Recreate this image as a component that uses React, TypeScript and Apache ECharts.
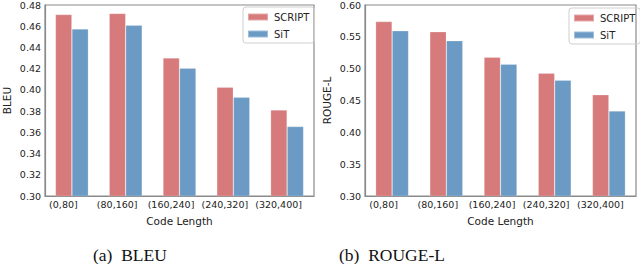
import React, { useEffect, useRef } from "react";
import * as echarts from "echarts";

const categories = ["(0,80]", "(80,160]", "(160,240]", "(240,320]", "(320,400]"];
const bleuScript = [0.471, 0.472, 0.430, 0.4025, 0.381];
const bleuSit = [0.4575, 0.461, 0.4205, 0.393, 0.3655];
const rougeScript = [0.574, 0.558, 0.518, 0.493, 0.459];
const rougeSit = [0.5595, 0.544, 0.507, 0.482, 0.4335];
const bleuTicks = { min: 0.3, max: 0.48, interval: 0.02 };
const rougeTicks = { min: 0.3, max: 0.6, interval: 0.05 };

const RED = "#d67a7b";
const BLUE = "#6b9bc4";
const FONT = "DejaVu Sans";
const FRAME = "#8a8a8a";

export default function App() {
  const ref = useRef<HTMLDivElement>(null);
  useEffect(() => {
    if (!ref.current) return;
    const chart = echarts.init(ref.current, null, { renderer: "svg" });
    const xAxis = (gi: number) => ({
      type: "category",
      gridIndex: gi,
      data: categories,
      name: "Code Length",
      nameLocation: "middle",
      nameGap: 19,
      nameTextStyle: { fontFamily: FONT, fontSize: 10.5, color: "#222" },
      axisLine: { show: true, lineStyle: { color: FRAME, width: 1.2 } },
      axisTick: { show: false },
      axisLabel: {
        fontFamily: FONT,
        fontSize: 9.5,
        color: "#222",
        margin: 3,
        padding: [0, 17, 0, 0],
        interval: 0,
      },
    });
    const yAxis = (gi: number, name: string, t: any) => ({
      type: "value",
      gridIndex: gi,
      min: t.min,
      max: t.max,
      interval: t.interval,
      name,
      nameLocation: "middle",
      nameGap: 33,
      nameTextStyle: { fontFamily: FONT, fontSize: 10.5, color: "#222" },
      axisLine: { show: true, lineStyle: { color: FRAME, width: 1.2 } },
      axisTick: { show: false },
      splitLine: { show: false },
      axisLabel: {
        fontFamily: FONT,
        fontSize: 9.5,
        color: "#222",
        margin: 4,
        formatter: (v: number) => v.toFixed(2),
      },
    });
    const bar = (name: string, data: number[], color: string, gi: number) => ({
      name,
      type: "bar",
      xAxisIndex: gi,
      yAxisIndex: gi,
      data,
      barWidth: 16.5,
      barGap: "0%",
      itemStyle: { color, borderColor: "rgba(255,255,255,0.35)", borderWidth: 0.6 },
    });
    const legend = (left: number, top: number) => ({
      left,
      top,
      orient: "vertical",
      data: ["SCRIPT", "SiT"],
      icon: "rect",
      itemWidth: 20,
      itemHeight: 7,
      itemGap: 7,
      padding: [5, 5, 4, 4],
      borderColor: "#cfcfcf",
      borderWidth: 1,
      borderRadius: 3,
      textStyle: { fontFamily: FONT, fontSize: 10, color: "#222", padding: [0, 0, 0, 1] },
    });
    chart.setOption({
      animation: false,
      backgroundColor: "#fff",
      grid: [
        { left: 40, right: 326, top: 5, bottom: 68, show: true, borderColor: FRAME, borderWidth: 1.2 },
        { left: 365, right: 4, top: 5, bottom: 68, show: true, borderColor: FRAME, borderWidth: 1.2 },
      ],
      xAxis: [xAxis(0), xAxis(1)],
      yAxis: [yAxis(0, "BLEU", bleuTicks), yAxis(1, "ROUGE-L", rougeTicks)],
      legend: [legend(243, 7), legend(569, 8)],
      series: [
        bar("SCRIPT", bleuScript, RED, 0),
        bar("SiT", bleuSit, BLUE, 0),
        bar("SCRIPT", rougeScript, RED, 1),
        bar("SiT", rougeSit, BLUE, 1),
      ],
      graphic: [
        {
          type: "text",
          left: 93,
          top: 246,
          style: { text: "(a)  BLEU", font: "17.5px 'Liberation Serif'", fill: "#111" },
        },
        {
          type: "text",
          left: 339,
          top: 246,
          style: { text: "(b)  ROUGE-L", font: "17.5px 'Liberation Serif'", fill: "#111" },
        },
      ],
    });
    return () => chart.dispose();
  }, []);
  return (
    <div
      ref={ref}
      style={{ position: "fixed", left: 0, top: 0, width: 640, height: 264, background: "#fff" }}
    />
  );
}
